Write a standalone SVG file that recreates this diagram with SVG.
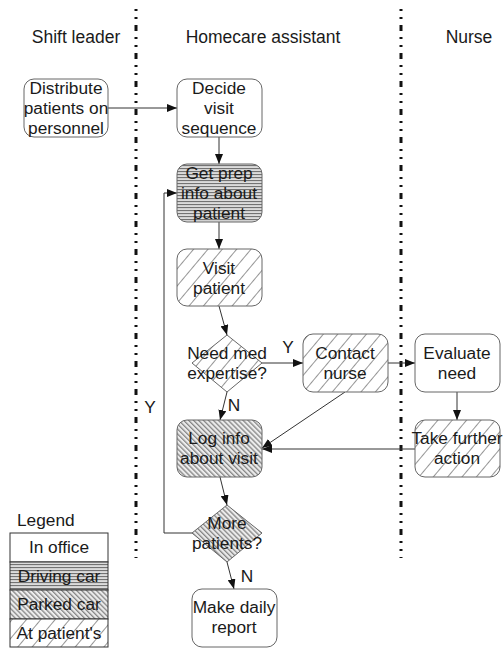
<svg xmlns="http://www.w3.org/2000/svg" width="504" height="649" viewBox="0 0 504 649">
<defs>
<style>
text{font-family:"Liberation Sans",Arial,sans-serif;font-size:17.3px;fill:#1a1a1a;text-anchor:middle}
.hd{font-size:17.5px}
.box{stroke:#666;stroke-width:1}
.ln{stroke:#333;stroke-width:1;fill:none}
.lane{stroke:#111;stroke-width:3;stroke-dasharray:2 6 2 6 6 6}
</style>
<pattern id="drive" width="6" height="3" patternUnits="userSpaceOnUse">
<rect width="6" height="3" fill="#dcdcdc"/>
<rect y="0" width="6" height="1.1" fill="#737373"/>
</pattern>
<pattern id="park" width="3.5" height="3.5" patternUnits="userSpaceOnUse" patternTransform="rotate(-45)">
<rect width="3.5" height="3.5" fill="#ececec"/>
<rect width="1.3" height="3.5" fill="#858585"/>
</pattern>
<pattern id="pat" width="11" height="11" patternUnits="userSpaceOnUse" patternTransform="rotate(40)">
<rect width="11" height="11" fill="#fff"/>
<rect width="0.9" height="11" fill="#8a8a8a"/>
</pattern>
<marker id="ah" viewBox="0 0 10 8" refX="10" refY="4" markerWidth="10" markerHeight="8" markerUnits="userSpaceOnUse" orient="auto">
<path d="M0,0 L10,4 L0,8 z" fill="#111"/>
</marker>
</defs>

<g id="lanes">
<line class="lane" x1="136" y1="9" x2="136" y2="558"/>
<line class="lane" x1="401" y1="9" x2="401" y2="558"/>
<text class="hd" x="76" y="43">Shift leader</text>
<text class="hd" x="263" y="43">Homecare assistant</text>
<text class="hd" x="469" y="43">Nurse</text>
</g>

<g id="connectors">
<line class="ln" x1="108" y1="108" x2="177" y2="108" marker-end="url(#ah)"/>
<line class="ln" x1="219" y1="137" x2="219" y2="164" marker-end="url(#ah)"/>
<line class="ln" x1="219" y1="222" x2="219" y2="249" marker-end="url(#ah)"/>
<line class="ln" x1="219" y1="306" x2="227" y2="335" marker-end="url(#ah)"/>
<line class="ln" x1="262" y1="363" x2="303" y2="363" marker-end="url(#ah)"/>
<line class="ln" x1="388" y1="363" x2="415" y2="363" marker-end="url(#ah)"/>
<line class="ln" x1="457" y1="392" x2="457" y2="420" marker-end="url(#ah)"/>
<line class="ln" x1="227" y1="392" x2="220" y2="420" marker-end="url(#ah)"/>
<line class="ln" x1="345" y1="392" x2="262" y2="448" marker-end="url(#ah)"/>
<line class="ln" x1="415" y1="449" x2="262" y2="449" marker-end="url(#ah)"/>
<line class="ln" x1="220" y1="477" x2="227" y2="505" marker-end="url(#ah)"/>
<line class="ln" x1="227" y1="562" x2="234" y2="589" marker-end="url(#ah)"/>
<polyline class="ln" points="192,533 164,533 164,193 177,193" marker-end="url(#ah)"/>
<text x="288" y="353">Y</text>
<text x="234" y="411">N</text>
<text x="150" y="413">Y</text>
<text x="247" y="582">N</text>
</g>

<g id="distribute">
<rect class="box" x="24" y="79" width="84" height="58" rx="10" fill="#fff"/>
<text x="66" y="94">Distribute</text>
<text x="66" y="114">patients on</text>
<text x="66" y="134">personnel</text>
</g>
<g id="decide">
<rect class="box" x="177" y="79" width="85" height="58" rx="10" fill="#fff"/>
<text x="219" y="94">Decide</text>
<text x="219" y="114">visit</text>
<text x="219" y="134">sequence</text>
</g>
<g id="getprep">
<rect class="box" x="177" y="164" width="85" height="58" rx="10" fill="url(#drive)"/>
<text x="219" y="179">Get prep</text>
<text x="219" y="199">info about</text>
<text x="219" y="219">patient</text>
</g>
<g id="visit">
<rect class="box" x="177" y="249" width="85" height="57" rx="10" fill="url(#pat)"/>
<text x="219" y="274">Visit</text>
<text x="219" y="294">patient</text>
</g>
<g id="needmed">
<polygon class="box" points="227,335 262,363 227,392 192,363" fill="url(#pat)"/>
<text x="227" y="359">Need med</text>
<text x="227" y="379">expertise?</text>
</g>
<g id="contact">
<rect class="box" x="303" y="334" width="85" height="58" rx="10" fill="url(#pat)"/>
<text x="345" y="359">Contact</text>
<text x="345" y="379">nurse</text>
</g>
<g id="evaluate">
<rect class="box" x="415" y="334" width="85" height="58" rx="10" fill="#fff"/>
<text x="457" y="359">Evaluate</text>
<text x="457" y="379">need</text>
</g>
<g id="takefurther">
<rect class="box" x="415" y="420" width="85" height="57" rx="10" fill="url(#pat)"/>
<text x="457" y="444">Take further</text>
<text x="457" y="464">action</text>
</g>
<g id="loginfo">
<rect class="box" x="177" y="420" width="85" height="57" rx="10" fill="url(#park)"/>
<text x="219" y="444">Log info</text>
<text x="219" y="464">about visit</text>
</g>
<g id="morepatients">
<polygon class="box" points="227,505 262,533 227,562 192,533" fill="url(#park)"/>
<text x="227" y="529">More</text>
<text x="227" y="549">patients?</text>
</g>
<g id="report">
<rect class="box" x="192" y="589" width="85" height="58" rx="10" fill="#fff"/>
<text x="234" y="613">Make daily</text>
<text x="234" y="633">report</text>
</g>

<g id="legend">
<text x="17" y="526" style="text-anchor:start">Legend</text>
<rect x="10" y="533" width="98" height="29" fill="#fff" stroke="#333"/>
<rect x="10" y="562" width="98" height="28" fill="url(#drive)" stroke="#333"/>
<rect x="10" y="590" width="98" height="29" fill="url(#park)" stroke="#333"/>
<rect x="10" y="619" width="98" height="28" fill="url(#pat)" stroke="#333"/>
<text x="59" y="553">In office</text>
<text x="59" y="582">Driving car</text>
<text x="59" y="610">Parked car</text>
<text x="59" y="639">At patient's</text>
</g>
</svg>
